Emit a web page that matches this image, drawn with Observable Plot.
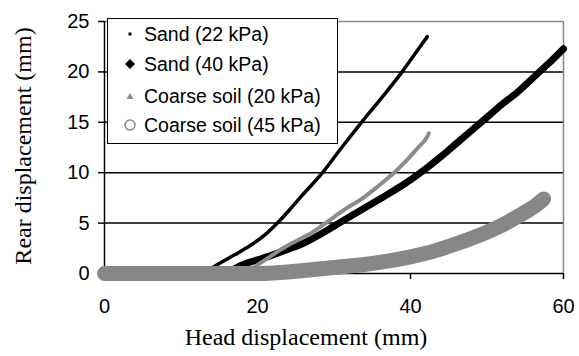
<!DOCTYPE html>
<html>
<head>
<meta charset="utf-8">
<script src="https://cdn.jsdelivr.net/npm/d3@7"></script>
<script src="https://cdn.jsdelivr.net/npm/@observablehq/plot@0.6"></script>
<style>
  body { margin: 0; background: #fff; }
  #wrap { position: relative; width: 579px; height: 356px; }
  #legend {
    position: absolute; left: 107px; top: 18px; width: 229px; height: 124px;
    border: 1.5px solid #000; background: #fff;
    font-family: "Liberation Sans", Arial, sans-serif; font-size: 19.5px; color: #000;
  }
  .row { position: absolute; left: 0; height: 30px; line-height: 30px; white-space: nowrap; }
  .row svg { position: absolute; left: 14px; top: 7px; }
  .row span { position: absolute; left: 36px; top: 0; }
</style>
</head>
<body>
<div id="wrap"></div>
<script>
// ---- data ----
const sand22X = [0, 10, 12, 13, 14, 15, 17, 19, 21, 22.6, 24, 25.6, 28.5, 31, 33.6, 36.3, 38.9, 40.5, 42.2];
const sand22Y = [0, 0, 0.05, 0.2, 0.55, 1.0, 1.85, 2.75, 3.85, 5.0, 6.15, 7.55, 10.0, 12.5, 15.0, 17.5, 20.0, 21.7, 23.5];

const sand40X = [0, 15, 16.5, 18, 20, 22, 24, 26, 28, 30, 32, 34, 36, 38, 40, 42, 44, 46, 48, 50, 52, 54, 56, 58, 60];
const sand40Y = [0, 0, 0.3, 0.85, 1.35, 1.85, 2.4, 3.0, 3.8, 4.7, 5.6, 6.5, 7.4, 8.3, 9.3, 10.4, 11.6, 12.9, 14.2, 15.5, 16.8, 18.0, 19.4, 20.8, 22.3];

const coarse20X = [0, 18, 19, 20, 21, 22, 23, 24, 25, 26, 27, 28, 29, 30, 31, 32, 33, 34, 35, 36, 37, 38, 39, 40, 41, 42, 42.4];
const coarse20Y = [0, 0, 0.35, 0.85, 1.35, 1.85, 2.35, 2.8, 3.2, 3.6, 4.0, 4.5, 5.05, 5.6, 6.15, 6.65, 7.1, 7.6, 8.2, 8.8, 9.45, 10.1, 10.85, 11.65, 12.5, 13.35, 13.9];

const coarse45X = [0, 20, 22, 24, 26, 28, 30, 32, 34, 36, 38, 40, 42, 44, 46, 48, 50, 52, 54, 56, 57.4];
const coarse45Y = [0, 0, 0.05, 0.15, 0.3, 0.45, 0.6, 0.75, 0.9, 1.1, 1.35, 1.65, 2.0, 2.45, 2.95, 3.5, 4.1, 4.8, 5.65, 6.55, 7.4];

const seriesNames = ["Sand (22 kPa)", "Sand (40 kPa)", "Coarse soil (20 kPa)", "Coarse soil (45 kPa)"];
const xTicks = [0, 20, 40, 60];
const yTicks = [0, 5, 10, 15, 20, 25];
const gridY = [5, 10, 15, 20];
const xTitle = "Head displacement (mm)";
const yTitle = "Rear displacement (mm)";

const toRows = (xs, ys) => xs.map((x, i) => ({x, y: ys[i]}));
const sand22 = toRows(sand22X, sand22Y);
const sand40 = toRows(sand40X, sand40Y);
const coarse20 = toRows(coarse20X, coarse20Y);
const coarse45 = toRows(coarse45X, coarse45Y);

const lineOpts = {x: "x", y: "y", curve: "monotone-x", strokeLinecap: "round", strokeLinejoin: "round"};

const chart = Plot.plot({
  width: 579, height: 356,
  marginLeft: 104, marginRight: 16, marginTop: 21, marginBottom: 83,
  x: {domain: [0, 60]},
  y: {domain: [0, 25]},
  style: {fontFamily: "'Liberation Sans', Arial, sans-serif", fontSize: "20px", color: "#000", background: "#fff", overflow: "visible"},
  marks: [
    Plot.ruleY(gridY, {stroke: "#000", strokeWidth: 1.5}),
    Plot.ruleX([60], {stroke: "#888", strokeWidth: 1.5}),
    Plot.ruleY([25], {stroke: "#888", strokeWidth: 1.5}),
    Plot.axisY({ticks: yTicks, tickSize: 6, tickPadding: 9, tickFormat: d => d, label: null, stroke: "#000", strokeWidth: 1.5, fontSize: 20}),
    Plot.axisX({ticks: xTicks, tickSize: 6, tickPadding: 19, tickFormat: d => d, label: null, stroke: "#000", strokeWidth: 1.5, fontSize: 20}),
    Plot.ruleX([0], {stroke: "#000", strokeWidth: 1.5}),
    Plot.ruleY([0], {stroke: "#000", strokeWidth: 1.5}),
    Plot.line(sand22, {...lineOpts, stroke: "#000", strokeWidth: 3.5}),
    Plot.line(sand40, {...lineOpts, stroke: "#000", strokeWidth: 7}),
    Plot.line(coarse20, {...lineOpts, stroke: "#8c8c8c", strokeWidth: 4}),
    Plot.line(coarse45, {...lineOpts, stroke: "#878787", strokeWidth: 15}),
    Plot.text([xTitle], {frameAnchor: "bottom", dx: -28, dy: 64, lineAnchor: "middle", fontFamily: "'Liberation Serif', 'Times New Roman', serif", fontSize: 24}),
    Plot.text([yTitle], {frameAnchor: "left", textAnchor: "middle", rotate: -90, dx: -81, dy: -1.5, lineAnchor: "middle", fontFamily: "'Liberation Serif', 'Times New Roman', serif", fontSize: 24})
  ]
});

const wrap = document.getElementById("wrap");
wrap.appendChild(chart);

// legend
const legend = document.createElement("div");
legend.id = "legend";
const markers = [
  '<svg width="16" height="16"><rect x="6.5" y="6.5" width="3" height="3" fill="#000"/></svg>',
  '<svg width="16" height="16"><path d="M8 3 L13 8 L8 13 L3 8 Z" fill="#000"/></svg>',
  '<svg width="16" height="16"><path d="M8 5 L11.5 11 L4.5 11 Z" fill="#8c8c8c"/></svg>',
  '<svg width="16" height="16"><circle cx="8" cy="8" r="5" fill="none" stroke="#878787" stroke-width="1.5"/></svg>'
];
const rowTops = [0, 30, 62, 91];
seriesNames.forEach((name, i) => {
  const row = document.createElement("div");
  row.className = "row";
  row.style.top = rowTops[i] + "px";
  row.innerHTML = markers[i] + "<span>" + name + "</span>";
  legend.appendChild(row);
});
wrap.appendChild(legend);
</script>
</body>
</html>
